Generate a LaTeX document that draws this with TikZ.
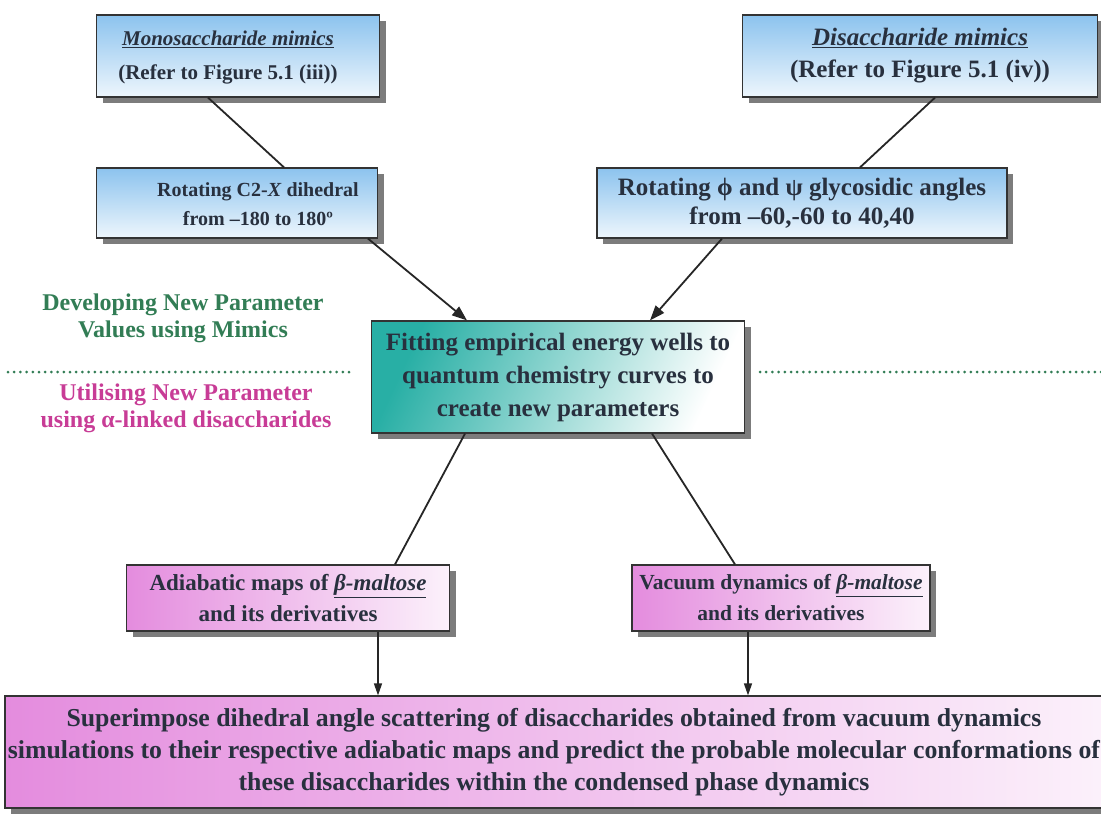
\documentclass[tikz,border=0pt]{standalone}
\usepackage{fontspec}
\setmainfont{Liberation Serif}
\usetikzlibrary{shadows,arrows.meta}
\definecolor{txt}{RGB}{40,48,62}
\definecolor{bluebox}{RGB}{140,195,238}
\definecolor{tealbox}{RGB}{40,175,165}
\definecolor{pinkbox}{RGB}{228,140,222}
\definecolor{devgreen}{RGB}{50,125,85}
\definecolor{utilpink}{RGB}{200,60,150}
\newcommand{\fs}[2]{\bfseries\fontsize{#1}{#2}\selectfont}
\tikzset{
  box/.style={draw=black!80, line width=1.2pt, align=center, inner sep=2pt,
    text=txt, font=\fs{22}{30},
    drop shadow={shadow xshift=6pt, shadow yshift=-6pt, fill=black!60, opacity=0.85}},
  bluestyle/.style={box, top color=bluebox, bottom color=bluebox!15},
  tealstyle/.style={box, left color=tealbox, right color=white, shading angle=65},
  pinkstyle/.style={box, left color=pinkbox, right color=pinkbox!12},
  plaintxt/.style={align=center, text=txt, inner sep=0pt},
  conn/.style={line width=1.8pt, draw=black!85},
  arr/.style={conn, -{Triangle[length=15pt,width=11pt]}},
  arrs/.style={line width=1.4pt, draw=black!85, -{Triangle[length=12pt,width=8pt]}},
  lab/.style={align=center, font=\fs{24}{27}},
  sep/.style={devgreen, line width=3pt, dash pattern=on 0pt off 6.2pt, line cap=round}
}
\begin{document}
\begin{tikzpicture}[x=1pt,y=-1pt]
\useasboundingbox (0,0) rectangle (1101,819);
\fill[white] (0,0) rectangle (1101,819);
\node[bluestyle, minimum width=283pt, minimum height=82pt] (mono) at (238,56) {};
\node[plaintxt, font=\fs{21}{34}] (monot) at (228,58)
  {\underline{\textit{Monosaccharide mimics}}\\(Refer to Figure 5.1 (iii))};
\node[bluestyle, minimum width=355pt, minimum height=82pt, font=\fs{25}{32}] (di) at (920,56)
  {\underline{\textit{Disaccharide mimics}}\\(Refer to Figure 5.1 (iv))};
\node[bluestyle, minimum width=281pt, minimum height=70pt] (rotc) at (237,203) {};
\node[plaintxt, font=\fs{20}{29}] (rotct) at (258,204)
  {Rotating C2-\textit{X} dihedral\\from –180 to 180º};
\node[bluestyle, minimum width=410pt, minimum height=70pt, font=\fs{25}{29}] (rotp) at (802,203)
  {Rotating ϕ and ψ glycosidic angles\\from –60,-60 to 40,40};
\node[tealstyle, minimum width=373pt, minimum height=112pt, font=\fs{25}{33}] (fit) at (558,377)
  {Fitting empirical energy wells to\\quantum chemistry curves to\\create new parameters};
\node[pinkstyle, minimum width=323pt, minimum height=66pt, font=\fs{23}{31}] (adia) at (288,598)
  {Adiabatic maps of \underline{\textit{β-maltose}}\\and its derivatives};
\node[pinkstyle, minimum width=298pt, minimum height=66pt, font=\fs{21.5}{31}] (vac) at (781,598)
  {Vacuum dynamics of \underline{\textit{β-maltose}}\\and its derivatives};
\node[pinkstyle, minimum width=1106pt, minimum height=112pt] (sup) at (558,752) {};
\node[plaintxt, font=\fs{25.8}{32}] (supt) at (554,752)
  {Superimpose dihedral angle scattering of disaccharides obtained from vacuum dynamics\\simulations to their respective adiabatic maps and predict the probable molecular conformations of\\these disaccharides within the condensed phase dynamics};
\node[lab, text=devgreen] (dev) at (183,318) {Developing New Parameter\\Values using Mimics};
\node[lab, text=utilpink] (util) at (186,408) {Utilising New Parameter\\using α-linked disaccharides};
\coordinate (d1) at (8,372); \coordinate (d2) at (350,372);
\coordinate (d3) at (760,372); \coordinate (d4) at (1101,372);
\draw[sep] (d1) -- (d2);
\draw[sep] (d3) -- (d4);
\draw[conn] (mono.south -| 208,0) -- (rotc.north -| 284,0);
\draw[conn] (di.south -| 935,0) -- (rotp.north -| 860,0);
\draw[arr] (rotc.south -| 368,0) -- (fit.north -| 467,0);
\draw[arr] (rotp.south -| 722,0) -- (fit.north -| 650,0);
\draw[conn] (fit.south -| 465,0) -- (adia.north -| 395,0);
\draw[conn] (fit.south -| 652,0) -- (vac.north -| 735,0);
\draw[arrs] (adia.south -| 378,0) -- (sup.north -| 378,0);
\draw[arrs] (vac.south -| 748,0) -- (sup.north -| 748,0);
\end{tikzpicture}
\end{document}
